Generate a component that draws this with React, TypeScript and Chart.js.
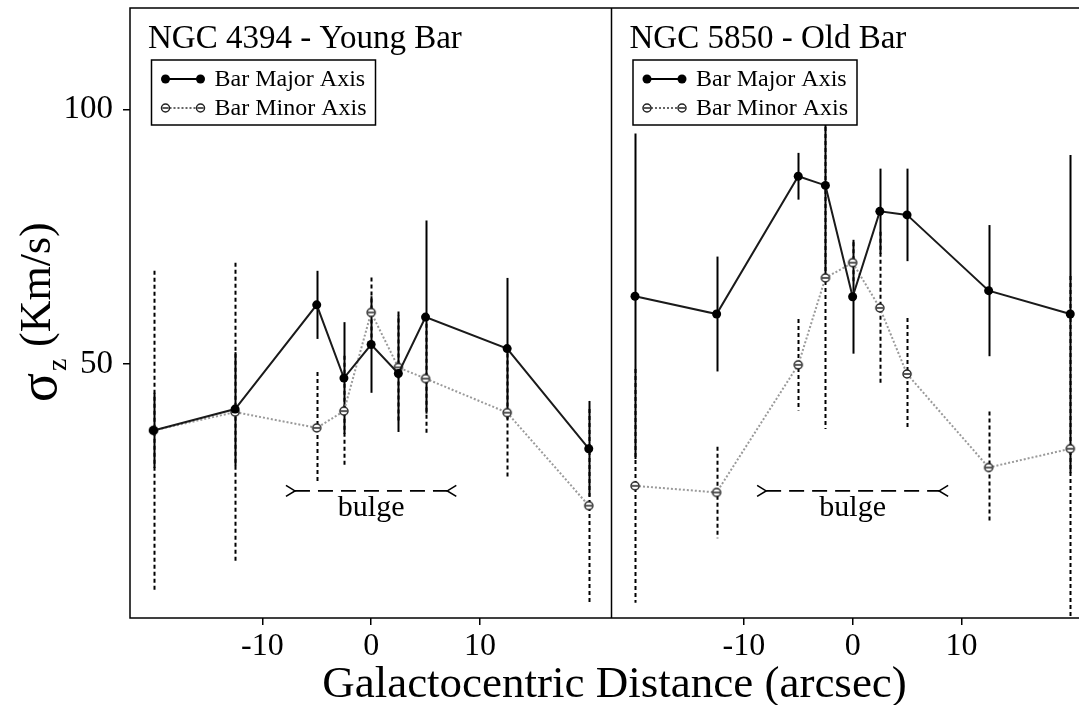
import React, { useEffect, useRef } from "react";
import { Chart, registerables } from "chart.js";

Chart.register(...registerables);

// ---------------- data ----------------
const DIST = [-20, -12.5, -5, -2.5, 0, 2.5, 5, 12.5, 20];

const N4394_MAJOR = [36.9, 41.1, 61.6, 47.2, 53.8, 48.1, 59.2, 53.0, 33.3];
const N4394_MAJOR_ERR = [7.4, 11.2, 6.7, 11.0, 9.5, 11.5, 19.0, 13.9, 9.4];
const N4394_MINOR = [36.9, 40.5, 37.4, 40.7, 60.1, 49.3, 47.1, 40.4, 22.1];
const N4394_MINOR_ERR = [31.4, 29.4, 11.0, 10.9, 6.9, 11.0, 10.8, 13.0, 19.0];

const N5850_MAJOR = [63.3, 59.8, 86.9, 85.1, 63.2, 80.0, 79.3, 64.4, 59.8];
const N5850_MAJOR_ERR = [32.0, 11.3, 4.6, 19.0, 11.2, 8.4, 9.1, 12.9, 31.3];
const N5850_MINOR = [26.0, 24.7, 49.8, 66.9, 69.9, 61.0, 48.0, 29.6, 33.3];
const N5850_MINOR_ERR = [23.0, 9.0, 9.0, 29.7, 4.0, 15.0, 11.0, 11.0, 34.0];

const X_TICKS = [-10, 0, 10];
const Y_TICKS = [50, 100];
const PANEL_TITLES = ["NGC 4394 - Young Bar", "NGC 5850 - Old Bar"];
const LEGEND_LABELS = ["Bar Major Axis", "Bar Minor Axis"];
const BULGE_LABEL = "bulge";
const BULGE_EDGES = [7.0, 7.95]; // half-extent of the bulge marker per panel (arcsec)
const BULGE_LEVEL = 25;
const X_TITLE = "Galactocentric Distance (arcsec)";
const Y_TITLE_SYMBOL = "σ";
const Y_TITLE_SUB = "z";
const Y_TITLE_UNIT = "(Km/s)";

// panel x range (arcsec); right panel is shifted by OFFSET on the shared axis
const PANEL_MIN = -22.16;
const PANEL_MAX = 22.09;
const OFFSET = PANEL_MAX - PANEL_MIN;
const Y_MIN = 0;
const Y_MAX = 120;

const FONT = '"Liberation Serif", "Times New Roman", serif';

function makeMinorPoint(): HTMLCanvasElement {
  const c = document.createElement("canvas");
  c.width = 12;
  c.height = 12;
  const g = c.getContext("2d")!;
  g.fillStyle = "#fff";
  g.strokeStyle = "#222";
  g.lineWidth = 1.5;
  g.beginPath();
  g.arc(6, 6, 4, 0, Math.PI * 2);
  g.fill();
  g.stroke();
  g.beginPath();
  g.moveTo(3, 6);
  g.lineTo(9, 6);
  g.stroke();
  return c;
}

function pts(xs: number[], ys: number[], off: number) {
  return xs.map((x, i) => ({ x: x + off, y: ys[i] }));
}

function drawMarker(ctx: CanvasRenderingContext2D, minor: boolean, x: number, y: number) {
  ctx.save();
  ctx.setLineDash([]);
  if (minor) {
    ctx.fillStyle = "#fff";
    ctx.strokeStyle = "#222";
    ctx.lineWidth = 1.5;
    ctx.beginPath();
    ctx.arc(x, y, 4, 0, Math.PI * 2);
    ctx.fill();
    ctx.stroke();
    ctx.beginPath();
    ctx.moveTo(x - 3, y);
    ctx.lineTo(x + 3, y);
    ctx.stroke();
  } else {
    ctx.fillStyle = "#000";
    ctx.beginPath();
    ctx.arc(x, y, 4.5, 0, Math.PI * 2);
    ctx.fill();
  }
  ctx.restore();
}

const panelsPlugin = {
  id: "panels",
  beforeDatasetsDraw(chart: any) {
    const { ctx, chartArea, scales } = chart;
    const xs = scales.x;
    const ys = scales.y;
    ctx.save();
    ctx.beginPath();
    ctx.rect(chartArea.left, chartArea.top, chartArea.right - chartArea.left, chartArea.bottom - chartArea.top);
    ctx.clip();

    const bars = (vals: number[], errs: number[], off: number, solid: boolean) => {
      ctx.save();
      ctx.strokeStyle = "#000";
      ctx.lineWidth = 2;
      ctx.setLineDash(solid ? [] : [4, 3]);
      DIST.forEach((d, i) => {
        const px = Math.round(xs.getPixelForValue(d + off)) + 0.5;
        ctx.beginPath();
        ctx.moveTo(px, ys.getPixelForValue(vals[i] + errs[i]));
        ctx.lineTo(px, ys.getPixelForValue(vals[i] - errs[i]));
        ctx.stroke();
      });
      ctx.restore();
    };
    bars(N4394_MINOR, N4394_MINOR_ERR, 0, false);
    bars(N5850_MINOR, N5850_MINOR_ERR, OFFSET, false);
    bars(N4394_MAJOR, N4394_MAJOR_ERR, 0, true);
    bars(N5850_MAJOR, N5850_MAJOR_ERR, OFFSET, true);

    // bulge markers
    [0, OFFSET].forEach((off, p) => {
      const e = BULGE_EDGES[p];
      const yb = ys.getPixelForValue(BULGE_LEVEL);
      const xa = xs.getPixelForValue(-e + off);
      const xb = xs.getPixelForValue(e + off);
      ctx.save();
      ctx.strokeStyle = "#000";
      ctx.lineWidth = 1.6;
      ctx.setLineDash([15, 8]);
      ctx.beginPath();
      ctx.moveTo(xa, yb);
      ctx.lineTo(xb, yb);
      ctx.stroke();
      ctx.setLineDash([]);
      ctx.beginPath();
      ctx.moveTo(xa - 9, yb - 5.5);
      ctx.lineTo(xa, yb);
      ctx.lineTo(xa - 9, yb + 5.5);
      ctx.moveTo(xb + 9, yb - 5.5);
      ctx.lineTo(xb, yb);
      ctx.lineTo(xb + 9, yb + 5.5);
      ctx.stroke();
      ctx.fillStyle = "#000";
      ctx.font = `30px ${FONT}`;
      ctx.textAlign = "center";
      ctx.textBaseline = "alphabetic";
      ctx.fillText(BULGE_LABEL, xs.getPixelForValue(off), yb + 25);
      ctx.restore();
    });
    ctx.restore();
  },
  afterDatasetsDraw(chart: any) {
    const { ctx, chartArea, scales } = chart;
    const xs = scales.x;
    const divider = xs.getPixelForValue(PANEL_MAX);
    ctx.save();
    ctx.strokeStyle = "#000";
    ctx.lineWidth = 1.5;
    ctx.setLineDash([]);
    ctx.strokeRect(chartArea.left, chartArea.top, chartArea.right - chartArea.left, chartArea.bottom - chartArea.top);
    ctx.beginPath();
    ctx.moveTo(divider, chartArea.top);
    ctx.lineTo(divider, chartArea.bottom);
    ctx.stroke();

    [chartArea.left, divider].forEach((pl, p) => {
      // title
      ctx.fillStyle = "#000";
      ctx.font = `33px ${FONT}`;
      ctx.textAlign = "left";
      ctx.textBaseline = "alphabetic";
      ctx.fillText(PANEL_TITLES[p], pl + 18, 48);
      // legend
      const bl = pl + 21.5;
      const bt = 60;
      ctx.fillStyle = "#fff";
      ctx.fillRect(bl, bt, 224, 65);
      ctx.lineWidth = 1.5;
      ctx.strokeStyle = "#000";
      ctx.strokeRect(bl, bt, 224, 65);
      LEGEND_LABELS.forEach((lab, k) => {
        const cy = bt + 19 + k * 29;
        const x1 = bl + 14;
        const x2 = bl + 49;
        ctx.save();
        ctx.beginPath();
        if (k === 0) {
          ctx.strokeStyle = "#000";
          ctx.lineWidth = 2;
          ctx.setLineDash([]);
        } else {
          ctx.strokeStyle = "#333";
          ctx.lineWidth = 1.5;
          ctx.setLineDash([2, 2]);
        }
        ctx.moveTo(x1, cy);
        ctx.lineTo(x2, cy);
        ctx.stroke();
        ctx.restore();
        drawMarker(ctx, k === 1, x1, cy);
        drawMarker(ctx, k === 1, x2, cy);
        ctx.fillStyle = "#000";
        ctx.font = `24px ${FONT}`;
        ctx.fillText(lab, bl + 63, bt + 26 + k * 29);
      });
    });
    ctx.restore();
  },
  afterDraw(chart: any) {
    const { ctx, scales } = chart;
    const divider = scales.x.getPixelForValue(PANEL_MAX);
    ctx.save();
    ctx.fillStyle = "#000";
    ctx.font = `45px ${FONT}`;
    ctx.textAlign = "center";
    ctx.textBaseline = "alphabetic";
    ctx.fillText(X_TITLE, divider + 3, 697);

    // y title, rotated
    ctx.translate(56, 402);
    ctx.rotate(-Math.PI / 2);
    ctx.textAlign = "left";
    ctx.font = `54px ${FONT}`;
    ctx.fillText(Y_TITLE_SYMBOL, 0, 0);
    const w = ctx.measureText(Y_TITLE_SYMBOL).width;
    ctx.font = `28px ${FONT}`;
    ctx.fillText(Y_TITLE_SUB, w + 2, 10);
    ctx.font = `44px ${FONT}`;
    ctx.fillText(Y_TITLE_UNIT, 55, -6);
    ctx.restore();
  },
};

export default function App() {
  const ref = useRef<HTMLCanvasElement>(null);

  useEffect(() => {
    const canvas = ref.current;
    if (!canvas) return;
    const minorPt = makeMinorPoint();
    const major = (data: any) => ({
      data,
      borderColor: "#1a1a1a",
      borderWidth: 2,
      pointRadius: 4.5,
      pointBackgroundColor: "#000",
      pointBorderColor: "#000",
      pointBorderWidth: 0,
      tension: 0,
      order: 0,
    });
    const minor = (data: any) => ({
      data,
      borderColor: "#9a9a9a",
      borderWidth: 2,
      borderDash: [2, 2],
      pointStyle: minorPt,
      pointRadius: 5,
      tension: 0,
      order: 1,
    });

    const chart = new Chart(canvas, {
      type: "line",
      data: {
        datasets: [
          { label: "NGC 4394 major", ...major(pts(DIST, N4394_MAJOR, 0)) },
          { label: "NGC 4394 minor", ...minor(pts(DIST, N4394_MINOR, 0)) },
          { label: "NGC 5850 major", ...major(pts(DIST, N5850_MAJOR, OFFSET)) },
          { label: "NGC 5850 minor", ...minor(pts(DIST, N5850_MINOR, OFFSET)) },
        ] as any,
      },
      options: {
        animation: false,
        responsive: false,
        devicePixelRatio: 1,
        layout: { padding: { top: 8, right: 1, left: 0, bottom: 0 } },
        plugins: { legend: { display: false }, tooltip: { enabled: false } },
        scales: {
          x: {
            type: "linear",
            min: PANEL_MIN,
            max: PANEL_MAX + OFFSET,
            afterBuildTicks: (s: any) => {
              s.ticks = [...X_TICKS, ...X_TICKS.map((v) => v + OFFSET)].map((v) => ({ value: v }));
            },
            afterFit: (s: any) => {
              s.height = 87;
              s.paddingLeft = 0;
              s.paddingRight = 0;
            },
            ticks: {
              callback: (v: any) => String(Math.round(v > PANEL_MAX ? v - OFFSET : v)),
              font: { family: FONT, size: 32 },
              color: "#000",
              padding: 2,
              maxRotation: 0,
              autoSkip: false,
            },
            grid: { display: true, drawOnChartArea: false, drawTicks: true, tickLength: 7, color: "#000", lineWidth: 1.5 },
            border: { display: false },
          },
          y: {
            type: "linear",
            min: Y_MIN,
            max: Y_MAX,
            afterBuildTicks: (s: any) => {
              s.ticks = Y_TICKS.map((v) => ({ value: v }));
            },
            afterFit: (s: any) => {
              s.width = 130;
              s.paddingTop = 0;
              s.paddingBottom = 0;
            },
            ticks: {
              font: { family: FONT, size: 33 },
              color: "#000",
              padding: 10,
            },
            grid: { display: true, drawOnChartArea: false, drawTicks: true, tickLength: 7, color: "#000", lineWidth: 1.5 },
            border: { display: false },
          },
        },
      } as any,
      plugins: [panelsPlugin],
    });
    return () => chart.destroy();
  }, []);

  return (
    <div
      style={{
        position: "fixed",
        left: 0,
        top: 0,
        width: 1079,
        height: 705,
        overflow: "hidden",
        background: "#fff",
      }}
    >
      <canvas ref={ref} width={1100} height={705} style={{ display: "block" }} />
    </div>
  );
}
